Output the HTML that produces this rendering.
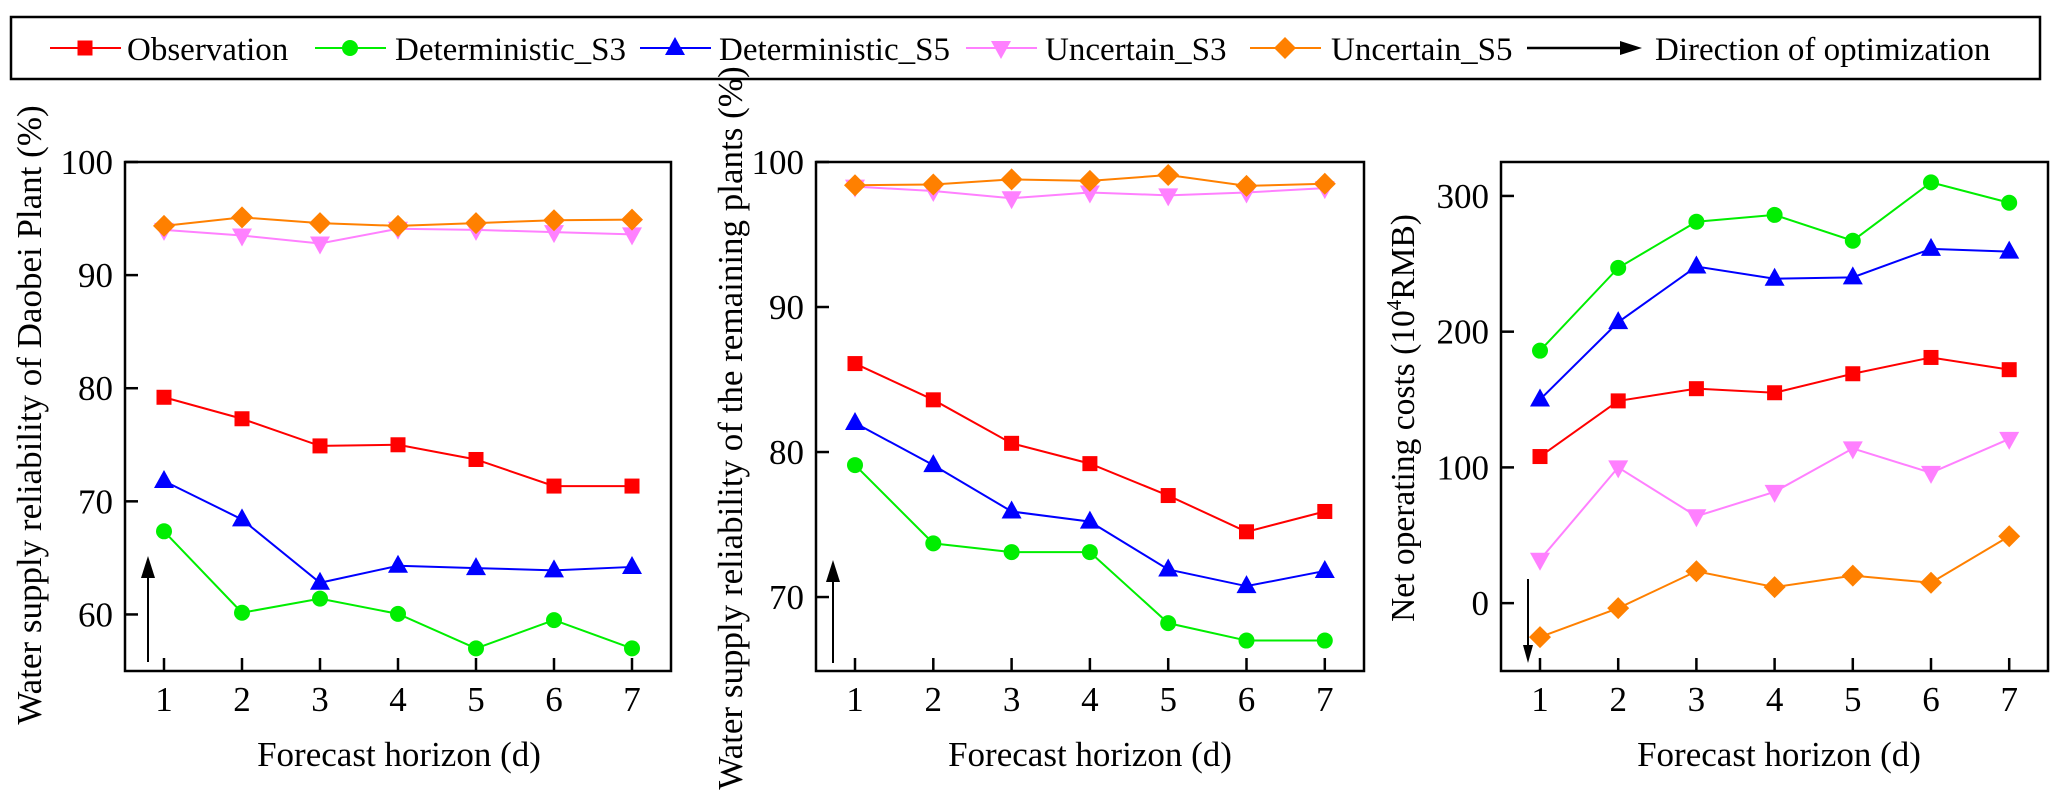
<!DOCTYPE html>
<html><head><meta charset="utf-8"><style>
html,body{margin:0;padding:0;background:#fff;}
svg{display:block;font-family:"Liberation Serif","DejaVu Serif",serif;}
</style></head><body>
<svg id="chart" width="2067" height="804" viewBox="0 0 2067 804" xmlns="http://www.w3.org/2000/svg">
<g id="legend"></g>
<g id="plots"></g>
</svg>
<script>
const horizons=[1,2,3,4,5,6,7];
const seriesNames=["Observation","Deterministic_S3","Deterministic_S5","Uncertain_S3","Uncertain_S5"];
const seriesColors=["#ff0000","#00ee00","#0000ff","#ff80ff","#ff8000"];
const seriesMarkers=["square","circle","triangle","tridown","diamond"];
// Panel 1: Daobei reliability
const p1Observation=[79.2,77.3,74.9,75.0,73.7,71.35,71.35];
const p1DetS3=[67.35,60.15,61.4,60.05,57.0,59.5,57.0];
const p1DetS5=[71.8,68.4,62.8,64.3,64.1,63.9,64.2];
const p1UncS3=[94.0,93.5,92.8,94.1,94.0,93.8,93.6];
const p1UncS5=[94.35,95.1,94.6,94.35,94.6,94.85,94.9];
const p1Ticks=[60,70,80,90,100];
// Panel 2: remaining plants reliability
const p2Observation=[86.1,83.6,80.6,79.2,77.0,74.5,75.9];
const p2DetS3=[79.1,73.7,73.1,73.1,68.2,67.0,67.0];
const p2DetS5=[82.0,79.1,75.9,75.2,71.9,70.75,71.8];
const p2UncS3=[98.3,98.0,97.5,97.9,97.7,97.9,98.2];
const p2UncS5=[98.4,98.45,98.8,98.7,99.1,98.35,98.5];
const p2Ticks=[70,80,90,100];
// Panel 3: net operating costs
const p3Observation=[108,149,158,155,169,181,172];
const p3DetS3=[186,247,281,286,267,310,295];
const p3DetS5=[150,207,248,239,240,261,259];
const p3UncS3=[32,100,64,82,114,96,121];
const p3UncS5=[-25,-3.7,23.5,11.8,20.3,15,49.3];
const p3Ticks=[0,100,200,300];

const NS="http://www.w3.org/2000/svg";
function mk(tag,attrs,parent){const e=document.createElementNS(NS,tag);for(const k in attrs)e.setAttribute(k,attrs[k]);if(parent)parent.appendChild(e);return e;}

function marker(parent,type,x,y,color){
  let e;
  if(type==="square"){e=mk("rect",{x:x-7.5,y:y-7.5,width:15,height:15,fill:color},parent);}
  else if(type==="circle"){e=mk("circle",{cx:x,cy:y,r:8,fill:color},parent);}
  else if(type==="triangle"){e=mk("polygon",{points:`${x},${y-11} ${x-10},${y+7} ${x+10},${y+7}`,fill:color},parent);}
  else if(type==="tridown"){e=mk("polygon",{points:`${x},${y+11} ${x-10},${y-7} ${x+10},${y-7}`,fill:color},parent);}
  else {e=mk("polygon",{points:`${x},${y-11} ${x+11},${y} ${x},${y+11} ${x-11},${y}`,fill:color},parent);}
  return e;
}

const panels=[
 {name:"daobei-reliability",left:125,right:671,x1:164,dx:78,ymin:55,ymax:100,ticks:p1Ticks,
  data:[p1Observation,p1DetS3,p1DetS5,p1UncS3,p1UncS5],title:"Water supply reliability of Daobei Plant (%)",titleX:29,titleY:415,titleFS:35,xtitleX:399,arrow:{x:148,y0:662,y1:556}},
 {name:"remaining-reliability",left:816,right:1364,x1:855,dx:78.3,ymin:64.9,ymax:100,ticks:p2Ticks,
  data:[p2Observation,p2DetS3,p2DetS5,p2UncS3,p2UncS5],title:"Water supply reliability of the remaining plants (%)",titleX:730,titleY:428,titleFS:35,xtitleX:1090,arrow:{x:833,y0:663,y1:560}},
 {name:"net-operating-costs",left:1501,right:2048,x1:1540,dx:78.2,ymin:-50,ymax:325,ticks:p3Ticks,
  data:[p3Observation,p3DetS3,p3DetS5,p3UncS3,p3UncS5],title:null,titleX:1402,titleY:418,titleFS:33.5,xtitleX:1779,arrow:{x:1528,y0:579,y1:663}}
];
const TOP=162,BOT=671;
const FS=35;
const plots=document.getElementById("plots");
panels.forEach(p=>{
  const g=mk("g",{},plots);
  
  
  const xs=h=>p.x1+(h-1)*p.dx;
  const ys=v=>BOT-(v-p.ymin)/(p.ymax-p.ymin)*(BOT-TOP);
  const fr=mk("rect",{x:p.left,y:TOP,width:p.right-p.left,height:BOT-TOP,fill:"none",stroke:"#000","stroke-width":2.5},g);
  
  
  p.ticks.forEach(t=>{
    const y=ys(t);
    const tl=mk("line",{x1:p.left,x2:p.left+13,y1:y,y2:y,stroke:"#000","stroke-width":2.5},g);
    
    
    const tx=mk("text",{x:p.left-12,y:y+12,"text-anchor":"end","font-size":FS},g);
    tx.textContent=t;
    
    
  });
  horizons.forEach(h=>{
    const x=xs(h);
    const tl=mk("line",{x1:x,x2:x,y1:BOT,y2:BOT-13,stroke:"#000","stroke-width":2.5},g);
    
    
    const tx=mk("text",{x:x,y:711,"text-anchor":"middle","font-size":FS},g);
    tx.textContent=h;
    
    
  });
  const xt=mk("text",{x:p.xtitleX,y:766,"text-anchor":"middle","font-size":FS},g);
  xt.textContent="Forecast horizon (d)";
  
  
  const yt=mk("text",{x:0,y:0,"text-anchor":"middle","font-size":p.titleFS,transform:`translate(${p.titleX+12},${p.titleY}) rotate(-90)`},g);
  if(p.title){yt.textContent=p.title;}
  else{yt.textContent="Net operating costs (10";const s=mk("tspan",{dy:-13,"font-size":21},yt);s.textContent="4";const r=mk("tspan",{dy:13},yt);r.textContent="RMB)";}
  
  
  p.data.forEach((vals,si)=>{
    const sg=mk("g",{},g);
    
    
    const pts=vals.map((v,i)=>xs(horizons[i])+","+ys(v)).join(" ");
    const ln=mk("polyline",{points:pts,fill:"none",stroke:seriesColors[si],"stroke-width":2},sg);
    
    
    vals.forEach((v,i)=>{
      const m=marker(sg,seriesMarkers[si],xs(horizons[i]),ys(v),seriesColors[si]);
      
      
    });
  });
  const a=p.arrow;const dir=a.y1<a.y0?-1:1;
  const hl=dir<0?22:18, hw=dir<0?7:5;
  const al=mk("line",{x1:a.x,x2:a.x,y1:a.y0,y2:a.y1-dir*hl,stroke:"#000","stroke-width":2},g);
  
  
  const ah=mk("polygon",{points:`${a.x},${a.y1} ${a.x-hw},${a.y1-dir*hl} ${a.x+hw},${a.y1-dir*hl}`,fill:"#000"},g);
  
  
});

const lg=document.getElementById("legend");
const lb=mk("rect",{x:11,y:17,width:2029,height:62,fill:"#fff",stroke:"#000","stroke-width":2.5},lg);


const legLineX=[50,315,640,966,1250];
const legTextX=[127,395,719,1045,1331];
seriesNames.forEach((n,i)=>{
  const eg=mk("g",{},lg);
  
  
  mk("line",{x1:legLineX[i],x2:legLineX[i]+71,y1:48,y2:48,stroke:seriesColors[i],"stroke-width":2},eg);
  marker(eg,seriesMarkers[i],legLineX[i]+35,48,seriesColors[i]);
  const t=mk("text",{x:legTextX[i],y:60,"font-size":33},eg);
  t.textContent=n;
});
const ag=mk("g",{},lg);


mk("line",{x1:1527,x2:1622,y1:48,y2:48,stroke:"#000","stroke-width":2.5},ag);
mk("polygon",{points:"1642,48 1620,41 1620,55",fill:"#000"},ag);
const at=mk("text",{x:1655,y:60,"font-size":33},ag);
at.textContent="Direction of optimization";
</script>
</body></html>
